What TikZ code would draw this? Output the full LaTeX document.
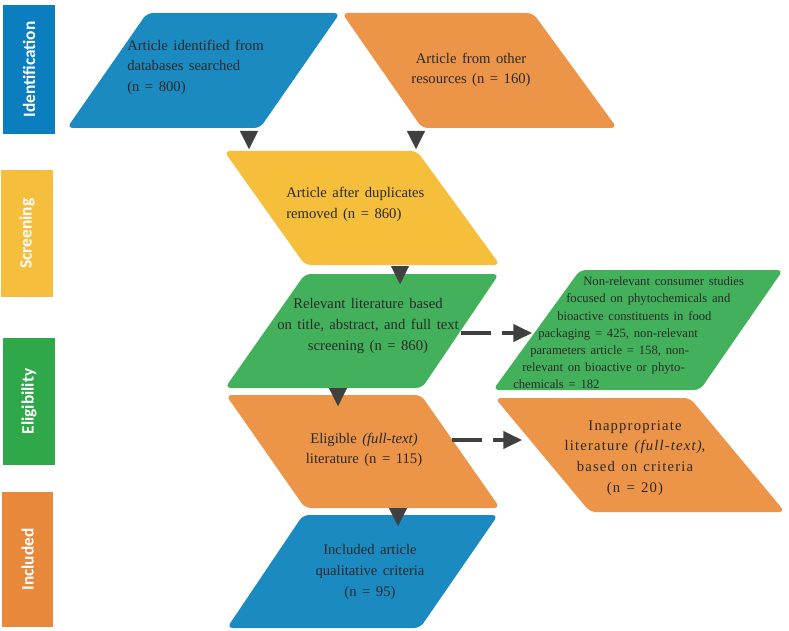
\documentclass[tikz,border=0pt]{standalone}
\usepackage{fontspec}
\setmainfont{Liberation Serif}[WordSpace=1.5]
\newfontfamily\stagefont{Carlito}
\newfontfamily\spacedfont{Liberation Serif}[LetterSpace=8,WordSpace=1.3]
\usetikzlibrary{arrows.meta}

\definecolor{idblue}{HTML}{0A7EBE}
\definecolor{scyellow}{HTML}{F6BE3D}
\definecolor{elgreen}{HTML}{2FA84A}
\definecolor{inorange}{HTML}{E8883A}
\definecolor{boxblue}{HTML}{1B8AC0}
\definecolor{boxorange}{HTML}{EC9447}
\definecolor{boxyellow}{HTML}{F5BF3B}
\definecolor{boxgreen}{HTML}{43B15B}
\definecolor{arrgray}{HTML}{404040}
\definecolor{txtgray}{HTML}{2A2A2A}

\begin{document}
\begin{tikzpicture}[x=0.75pt,y=-0.75pt,
  stage/.style={rotate=90,text=white,font=\stagefont\bfseries\fontsize{13}{15}\selectfont,
    minimum height=39pt,inner sep=0pt},
  txt/.style={text=txtgray,font=\fontsize{11}{15.4}\selectfont,inner sep=0pt},
  smalltxt/.style={text=txtgray,font=\fontsize{9.5}{12.9}\selectfont,inner sep=0pt},
  tri/.style={draw=arrgray,fill=arrgray,line width=0.1pt,-{Triangle[width=13.5pt,length=13.5pt]}},
  dasharrow/.style={draw=arrgray,line width=2.6pt,dash pattern=on 22.5pt off 8.25pt,
    -{Triangle[width=13pt,length=14pt]}},
  slanted/.style={rounded corners=4.5pt}]
  \useasboundingbox (0,0) rectangle (789,631);

  % stage bars
  \node[stage,fill=idblue,minimum width=96.75pt] (identification) at (29,69.5) {Identification};
  \node[stage,fill=scyellow,minimum width=95.25pt] (screening) at (27,233.5) {Screening};
  \node[stage,fill=elgreen,minimum width=95.25pt] (eligibility) at (29,401.5) {Eligibility};
  \node[stage,fill=inorange,minimum width=101.25pt,minimum height=38.25pt] (included) at (27.5,559.5) {Included};

  % boxes
  \fill[slanted,boxblue] (147,13) -- (340,13) -- (260,128) -- (67,128) -- cycle;
  \fill[slanted,boxorange] (342,13) -- (533,13) -- (617,128) -- (422,128) -- cycle;
  \fill[slanted,boxyellow] (224,151) -- (417,151) -- (500,265) -- (305,265) -- cycle;
  \fill[slanted,boxgreen] (305,274) -- (499,274) -- (422,388) -- (225,388) -- cycle;
  \fill[slanted,boxgreen] (580,270) -- (783,270) -- (700,390) -- (493,390) -- cycle;
  \fill[slanted,boxorange] (226,395) -- (421,395) -- (500,508) -- (305,508) -- cycle;
  \fill[slanted,boxorange] (495,398) -- (690,398) -- (785,512) -- (590,512) -- cycle;
  \fill[slanted,boxblue] (303,515) -- (498,515) -- (420,628) -- (227,628) -- cycle;

  % texts
  \node[txt,align=left,anchor=west] (databases) at (127,67)
    {Article identified from\\databases searched\\(n = 800)};
  \node[txt,align=center] (other) at (471,70) {Article from other\\resources (n = 160)};
  \node[txt,align=left,anchor=west] (duplicates) at (286,204.5)
    {Article after duplicates\\removed (n = 860)};
  \node[txt,align=center] (relevant) at (368,326)
    {Relevant literature based\\on title, abstract, and full text\\screening (n = 860)};
  \node[smalltxt,align=left,anchor=west] (nonrelevant) at (513,333)
    {\hspace*{52.5pt}Non-relevant consumer studies\\
     \hspace*{39.75pt}focused on phytochemicals and\\
     \hspace*{33pt}bioactive constituents in food\\
     \hspace*{18.75pt}packaging = 425, non-relevant\\
     \hspace*{12.75pt}parameters article = 158, non-\\
     \hspace*{6.75pt}relevant on bioactive or phyto-\\
     chemicals = 182};
  \node[txt,align=center] (eligible) at (364,450)
    {Eligible \textit{(full-text)}\\literature (n = 115)};
  \node[txt,align=center,font=\spacedfont\fontsize{11}{15.5}\selectfont] (inappropriate) at (635,458)
    {Inappropriate\\literature \textit{(full-text)},\\based on criteria\\(n = 20)};
  \node[txt,align=center] (qualitative) at (370,572)
    {Included article\\qualitative criteria\\(n = 95)};

  % arrow ends
  \coordinate (a1s) at (249,131); \coordinate (a1e) at (249,149);
  \coordinate (a2s) at (416,131); \coordinate (a2e) at (416,149);
  \coordinate (a3s) at (400,266); \coordinate (a3e) at (400,284);
  \coordinate (a4s) at (338,388); \coordinate (a4e) at (338,406);
  \coordinate (a5s) at (398,508); \coordinate (a5e) at (398,526);
  \coordinate (d1s) at (461,333); \coordinate (d1e) at (532,333);
  \coordinate (d2s) at (452,440); \coordinate (d2e) at (522,440);

  % arrows
  \draw[tri] (a1s) -- (a1e);
  \draw[tri] (a2s) -- (a2e);
  \draw[tri] (a3s) -- (a3e);
  \draw[tri] (a4s) -- (a4e);
  \draw[tri] (a5s) -- (a5e);
  \draw[dasharrow] (d1s) -- (d1e);
  \draw[dasharrow] (d2s) -- (d2e);
\end{tikzpicture}
\end{document}
